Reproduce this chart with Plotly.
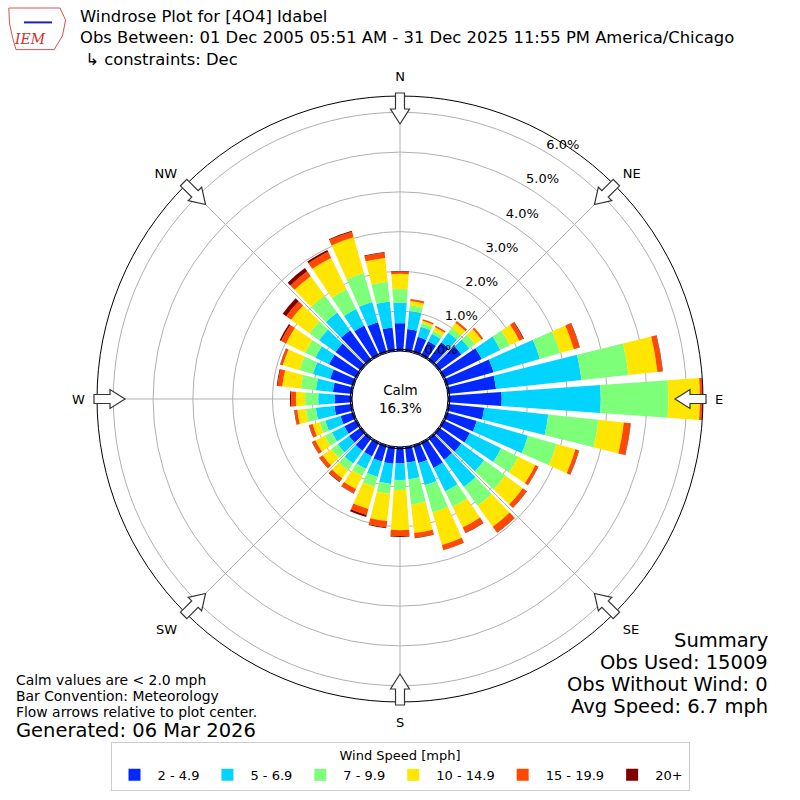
import math
import plotly.graph_objects as go

# wind directions (deg, meteorological) and speed bins
directions = list(range(0, 360, 10))
speed_bins = ["2 - 4.9", "5 - 6.9", "7 - 9.9", "10 - 14.9", "15 - 19.9", "20+"]
bin_colors = ["#0028ff", "#00d4ff", "#7dff7a", "#ffe600", "#ff4800", "#800000"]

# percent of obs per direction for each speed bin
pct_2_5 = [0.70, 0.56, 0.42, 0.41, 0.56, 0.70, 1.08, 1.24, 1.22, 1.35, 0.92, 0.80,
           0.75, 0.70, 0.68, 0.72, 0.47, 0.40, 0.41, 0.43, 0.43, 0.40, 0.40, 0.38,
           0.35, 0.35, 0.45, 0.43, 0.49, 0.62, 0.78, 0.80, 0.93, 0.85, 0.80, 0.60]
pct_5_7 = [0.51, 0.46, 0.26, 0.21, 0.30, 0.25, 0.52, 1.21, 2.16, 2.49, 1.62, 1.34,
           0.87, 0.71, 0.85, 0.66, 0.58, 0.42, 0.42, 0.51, 0.40, 0.35, 0.40, 0.35,
           0.35, 0.40, 0.47, 0.42, 0.43, 0.45, 0.38, 0.51, 0.55, 0.46, 0.53, 0.66]
pct_7_10 = [0.35, 0.14, 0.10, 0.08, 0.14, 0.18, 0.27, 0.53, 1.19, 1.70, 1.27, 0.75,
            0.48, 0.66, 0.58, 0.43, 0.71, 0.64, 0.25, 0.25, 0.26, 0.20, 0.21, 0.20,
            0.20, 0.15, 0.25, 0.33, 0.38, 0.35, 0.29, 0.30, 0.53, 0.55, 0.76, 0.50]
pct_10_15 = [0.38, 0.11, 0.06, 0.10, 0.16, 0.20, 0.26, 0.36, 0.73, 0.79, 0.64, 0.49,
             0.48, 0.54, 0.65, 0.58, 0.85, 0.72, 1.01, 0.69, 0.58, 0.36, 0.25, 0.27,
             0.26, 0.18, 0.22, 0.23, 0.47, 0.44, 0.53, 0.57, 0.60, 0.88, 0.93, 0.60]
pct_15_20 = [0.06, 0.05, 0.04, 0.04, 0.06, 0.05, 0.11, 0.15, 0.13, 0.07, 0.17, 0.09,
             0.08, 0.12, 0.18, 0.15, 0.13, 0.12, 0.15, 0.16, 0.16, 0.12, 0.10, 0.10,
             0.09, 0.09, 0.07, 0.12, 0.12, 0.06, 0.14, 0.15, 0.15, 0.17, 0.15, 0.13]
pct_20p = [0.01, 0.00, 0.00, 0.00, 0.00, 0.00, 0.02, 0.01, 0.01, 0.01, 0.01, 0.01,
           0.01, 0.01, 0.01, 0.01, 0.01, 0.01, 0.02, 0.02, 0.05, 0.01, 0.02, 0.01,
           0.01, 0.01, 0.01, 0.03, 0.02, 0.01, 0.04, 0.11, 0.10, 0.05, 0.02, 0.02]
series = [pct_2_5, pct_5_7, pct_7_10, pct_10_15, pct_15_20, pct_20p]

compass_vals = [0, 45, 90, 135, 180, 225, 270, 315]
compass_text = ["N", "NE", "E", "SE", "S", "SW", "W", "NW"]
ring_vals = [0, 1, 2, 3, 4, 5, 6]
ring_text = ["0.0%", "1.0%", "2.0%", "3.0%", "4.0%", "5.0%", "6.0%"]
r_max = 6.41
calm_pct = 16.3

FONT = "DejaVu Sans"
W = H = 800
CX, CY, RAD = 400, 399, 303  # polar center / radius in px

fig = go.Figure()
for name, vals, col in zip(speed_bins, series, bin_colors):
    fig.add_trace(go.Barpolar(r=vals, theta=directions, width=8, name=name,
                              marker=dict(color=col, line=dict(width=0))))

# calm circle and ring labels
fig.add_trace(go.Scatterpolar(r=[0.04] * 361, theta=list(range(361)), mode="lines",
                              line=dict(color="black", width=1.3), showlegend=False,
                              hoverinfo="skip"))
fig.add_trace(go.Scatterpolar(r=ring_vals, theta=[30.7] * len(ring_vals), mode="text",
                              text=ring_text, textposition="top right",
                              textfont=dict(size=13, color="black", family=FONT),
                              showlegend=False, hoverinfo="skip"))

# flow arrows on the compass points
def arrow_path(ang):
    a = math.radians(ang)
    ux, uy = math.sin(a), math.cos(a)
    px, py = math.cos(a), -math.sin(a)
    pts = []
    for r, w in [(306, -4.5), (290, -4.5), (290, -9.5), (275, 0), (290, 9.5), (290, 4.5), (306, 4.5)]:
        x = CX + r * ux + w * px
        y = (H - CY) + r * uy + w * py
        pts.append((x / W, y / H))
    return "M " + " L ".join(f"{x:.5f},{y:.5f}" for x, y in pts) + " Z"

shapes = [dict(type="path", xref="paper", yref="paper", path=arrow_path(a),
               fillcolor="white", line=dict(color="#333333", width=1.2))
          for a in compass_vals]

# crude IEM logo outline
shapes.append(dict(type="path", xref="paper", yref="paper",
                   path="M 0.011,0.99 L 0.075,0.99 L 0.082,0.975 L 0.078,0.955 L 0.07,0.942 "
                        "L 0.068,0.938 L 0.02,0.938 L 0.016,0.952 L 0.012,0.97 Z",
                   line=dict(color="#e05050", width=1)))
shapes.append(dict(type="line", xref="paper", yref="paper", x0=0.03, x1=0.065, y0=0.972, y1=0.972,
                   line=dict(color="#2020c0", width=2)))

annotations = []
title_lines = ["Windrose Plot for [4O4] Idabel",
               "Obs Between: 01 Dec 2005 05:51 AM - 31 Dec 2025 11:55 PM America/Chicago",
               " ↳ constraints: Dec"]
annotations.append(dict(text="<br>".join(title_lines), x=78 / W, y=1 - 38 / H, xref="paper",
                        yref="paper", xanchor="left", yanchor="middle", align="left",
                        showarrow=False, font=dict(size=16.4, family=FONT, color="black")))
annotations.append(dict(text="<i>IEM</i>", x=30 / W, y=1 - 39 / H, xref="paper", yref="paper",
                        xanchor="center", yanchor="middle", showarrow=False,
                        font=dict(size=14, family="DejaVu Serif", color="#d03030")))
annotations.append(dict(text=f"Calm<br>{calm_pct}%", x=CX / W, y=1 - CY / H, xref="paper",
                        yref="paper", showarrow=False, align="center",
                        font=dict(size=13.5, family=FONT, color="black")))
left_notes = ["Calm values are < 2.0 mph", "Bar Convention: Meteorology",
              "Flow arrows relative to plot center."]
for i, t in enumerate(left_notes):
    annotations.append(dict(text=t, x=14 / W, y=1 - (680 + 16 * i) / H, xref="paper", yref="paper",
                            xanchor="left", yanchor="middle", showarrow=False,
                            font=dict(size=13.9, family=FONT, color="black")))
annotations.append(dict(text="Generated: 06 Mar 2026", x=14 / W, y=1 - 730 / H, xref="paper",
                        yref="paper", xanchor="left", yanchor="middle", showarrow=False,
                        font=dict(size=19.5, family=FONT, color="black")))
summary = ["Summary", "Obs Used: 15009", "Obs Without Wind: 0", "Avg Speed: 6.7 mph"]
for i, t in enumerate(summary):
    annotations.append(dict(text=t, x=770 / W, y=1 - (640 + 22 * i) / H, xref="paper", yref="paper",
                            xanchor="right", yanchor="middle", showarrow=False,
                            font=dict(size=19.5, family=FONT, color="black")))

fig.update_layout(
    width=W, height=H,
    margin=dict(l=0, r=0, t=0, b=0),
    paper_bgcolor="white",
    font=dict(family=FONT, size=13, color="black"),
    polar=dict(
        domain=dict(x=[(CX - RAD) / W, (CX + RAD) / W],
                    y=[(H - CY - RAD) / H, (H - CY + RAD) / H]),
        hole=48 / RAD,
        bgcolor="white",
        barmode="stack",
        angularaxis=dict(rotation=90, direction="clockwise", tickmode="array",
                         tickvals=compass_vals, ticktext=compass_text,
                         showgrid=True, gridcolor="#b0b0b0", gridwidth=1,
                         showline=True, linecolor="black", linewidth=1,
                         ticks="outside", ticklen=9, tickcolor="rgba(0,0,0,0)",
                         tickfont=dict(size=13, family=FONT)),
        radialaxis=dict(range=[0, r_max], tickvals=ring_vals, showticklabels=False,
                        showgrid=True, gridcolor="#b0b0b0", gridwidth=1,
                        showline=False, ticks=""),
    ),
    legend=dict(orientation="h", x=0.5, xanchor="center", y=1 - 742 / H, yanchor="top",
                title=dict(text="Wind Speed [mph]", side="top center", font=dict(size=13)),
                bordercolor="#cccccc", borderwidth=1, font=dict(size=13),
                itemwidth=36),
    shapes=shapes,
    annotations=annotations,
)

fig.write_html("out.html", config={"displayModeBar": False},
               post_script="document.body.style.margin = '0';")
